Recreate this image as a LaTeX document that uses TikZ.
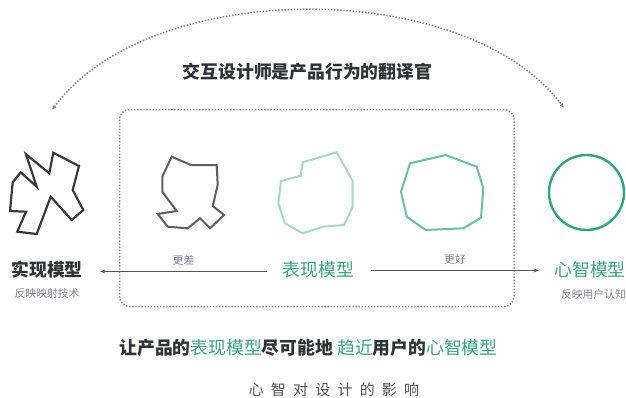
\documentclass[tikz,border=0pt]{standalone}
\usepackage{fontspec}
\setmainfont{Noto Sans CJK SC}
\newfontfamily\capfont[LetterSpace=48]{Noto Sans CJK SC}
\usetikzlibrary{arrows.meta}
\definecolor{textdark}{HTML}{2F3136}
\definecolor{mygreen}{HTML}{3AA47C}
\definecolor{subgray}{HTML}{7A8595}
\definecolor{shapeA}{HTML}{3A3A3A}
\definecolor{shapeB}{HTML}{5E5E5E}
\definecolor{shapeC}{HTML}{A9D9C3}
\definecolor{shapeD}{HTML}{6CC09C}
\definecolor{circlegreen}{HTML}{2FA57B}
\definecolor{dotgray}{HTML}{7E7E7E}
\definecolor{arrowgray}{HTML}{555555}
\begin{document}
\begin{tikzpicture}[x=1pt,y=-1pt,
  lbl/.style={inner sep=0pt,font=\fontsize{17.8}{21}\selectfont},
  sublbl/.style={inner sep=0pt,text=subgray,font=\fontsize{10.8}{13}\selectfont},
  poly/.style={line width=2.2pt,line join=miter},
  dotline/.style={dotgray,line width=1.5pt,dash pattern=on 1.4pt off 1.7pt},
  conn/.style={arrowgray,line width=0.9pt,-{Stealth[length=5pt,width=4pt]}}]
\fill[white] (0,0) rectangle (626,397);
\useasboundingbox (0,0) rectangle (626,397);

% top arc
\coordinate (arcL) at (52,110);
\coordinate (arcR) at (564,108);
\draw[dotline,{Latex[length=4.5pt,width=4pt]}-{Latex[length=4.5pt,width=4pt]}]
  (arcL) .. controls (150,-23) and (466,-23) .. (arcR);
\node[lbl,text=textdark,font=\fontsize{17.8}{21}\selectfont\bfseries] (title) at (307.5,72) {交互设计师是产品行为的翻译官};

% dotted box
\draw[dotline,dotgray!90,rounded corners=10pt] (119.5,109.5) rectangle (514,306.5);

% shape 1
\draw[poly,shapeA] (26,154.3) -- (49.3,173.3) -- (53.3,152.7) -- (79,166) -- (72.7,190)
  -- (83.3,210) -- (71.7,220) -- (50.7,196.7) -- (36.7,234) -- (17.3,231.7)
  -- (26,211.7) -- (10,211) -- (12.7,182.3) -- (20.7,172.3) -- (36.7,186.7) -- cycle;
% shape 2
\draw[poly,shapeB,line width=2pt] (171.7,156.7) -- (191,165) -- (216.7,165) -- (217.7,185)
  -- (212.7,206) -- (224,215) -- (210,228.3) -- (200,218.3) -- (187.7,228.3)
  -- (167.7,226.7) -- (157.7,214) -- (176.7,211) -- (162.3,191.7) -- (162.3,176.7) -- cycle;
% shape 3
\draw[poly,shapeC,line width=2pt] (302.7,162.3) -- (336.7,152.3) -- (352.7,181) -- (352.7,206.7)
  -- (344,225) -- (322.7,226.7) -- (302.7,233.3) -- (285,223.3) -- (278.3,203.3)
  -- (281,181) -- (300.7,175.7) -- cycle;
% shape 4
\draw[poly,shapeD,line width=2pt] (410,163.3) -- (445.7,155) -- (476.7,166.7) -- (483.3,188.3)
  -- (481,217.7) -- (463.3,228.3) -- (425.7,230) -- (406.7,216.7) -- (401,191.7) -- cycle;
% circle
\draw[circlegreen,line width=2.4pt] (586.5,192.5) circle[radius=37.5];

% labels row
\node[lbl,text=textdark,font=\fontsize{17.8}{21}\selectfont\bfseries] (real) at (47,270) {实现模型};
\node[sublbl] (realsub) at (47,293) {反映映射技术};
\node[lbl,text=mygreen] (rep) at (318.5,270) {表现模型};
\node[lbl,text=mygreen] (mind) at (590,270) {心智模型};
\node[sublbl,anchor=east] (mindsub) at (626,294) {反映用户认知};

\draw[conn] ([xshift=-16pt,yshift=-1.5pt]rep.west) -- ([xshift=17.5pt,yshift=-1.5pt]real.east)
  node[midway,above=6pt,sublbl] (worse) {更差};
\draw[conn] ([xshift=17pt,yshift=-0.5pt]rep.east) -- ([xshift=-15.5pt,yshift=-0.5pt]mind.west)
  node[midway,above=6pt,sublbl] (better) {更好};

% bottom sentence
\node[lbl,text=textdark,font=\fontsize{17.8}{21}\selectfont\bfseries] (sentence) at (308.5,348)
  {让产品的\textcolor{mygreen}{\mdseries 表现模型}尽可能地 \textcolor{mygreen}{\mdseries 趋近}用户的\textcolor{mygreen}{\mdseries 心智模型}};

% caption
\node[inner sep=0pt,text=textdark!85,font=\capfont\fontsize{15}{18}\selectfont] (caption) at (334,390) {心智对设计的影响};
\end{tikzpicture}
\end{document}
